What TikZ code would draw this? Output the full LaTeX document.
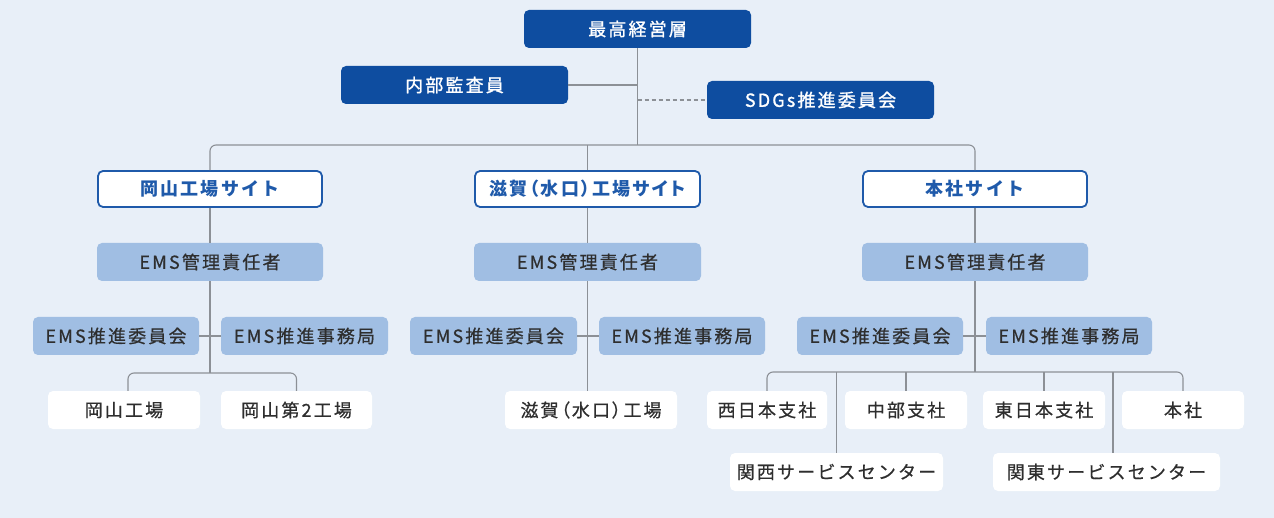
\documentclass[tikz,border=0pt]{standalone}
\usepackage{fontspec}
\setmainfont{Noto Sans CJK JP}[LetterSpace=12]
\newcommand{\pp}{\addfontfeatures{RawFeature=+palt}}
\definecolor{bg}{HTML}{E8EFF8}
\definecolor{dblue}{HTML}{0E4DA0}
\definecolor{lblue}{HTML}{A0BEE3}
\definecolor{lnc}{HTML}{8C9096}
\definecolor{txt}{HTML}{2E2E2E}
\definecolor{sblue}{HTML}{1F5AAA}
\begin{document}
\begin{tikzpicture}[x=1pt,y=-1pt,
  base/.style={rectangle, rounded corners=5pt, minimum height=38pt, inner sep=0pt, font=\fontsize{18}{20}\selectfont\addfontfeatures{FakeBold=0.6}},
  topbox/.style={base, fill=dblue, text=white, font=\fontsize{18}{20}\selectfont\addfontfeatures{FakeBold=1.2}},
  sitebox/.style={base, fill=white, draw=sblue, line width=1.8pt, minimum height=36pt, text=sblue, font=\fontsize{18}{20}\selectfont\bfseries},
  emsbox/.style={base, fill=lblue, text=txt},
  unitbox/.style={base, fill=white, text=txt},
  conn/.style={draw=lnc, line width=1.1pt},
  conndash/.style={conn, dashed, dash pattern=on 4pt off 3pt}]
\fill[bg] (0,0) rectangle (1274,518);
% top level
\node[topbox, minimum width=227pt] (top) at (637.5,29) {最高経営層};
\node[topbox, minimum width=227pt] (audit) at (454.5,85) {内部監査員};
\node[topbox, minimum width=227pt] (sdgs) at (820.5,100) {SDGs推進委員会};
% sites
\node[sitebox, minimum width=224pt] (site1) at (210,189) {岡山工場サイト};
\node[sitebox, minimum width=225pt] (site2) at (587.5,189) {\pp 滋賀（水口）工場サイト};
\node[sitebox, minimum width=224pt] (site3) at (975,189) {本社サイト};
% managers
\node[emsbox, minimum width=226pt] (mgr1) at (210,262) {EMS管理責任者};
\node[emsbox, minimum width=227pt] (mgr2) at (587.5,262) {EMS管理責任者};
\node[emsbox, minimum width=226pt] (mgr3) at (975,262) {EMS管理責任者};
% committees and offices
\node[emsbox, minimum width=166pt] (com1) at (116,336) {EMS推進委員会};
\node[emsbox, minimum width=167pt] (off1) at (304.5,336) {EMS推進事務局};
\node[emsbox, minimum width=167pt] (com2) at (493.5,336) {EMS推進委員会};
\node[emsbox, minimum width=166pt] (off2) at (682,336) {EMS推進事務局};
\node[emsbox, minimum width=166pt] (com3) at (880,336) {EMS推進委員会};
\node[emsbox, minimum width=166pt] (off3) at (1069,336) {EMS推進事務局};
% units
\node[unitbox, minimum width=152pt] (ok1) at (124,410) {岡山工場};
\node[unitbox, minimum width=151pt] (ok2) at (296.5,410) {岡山第2工場};
\node[unitbox, minimum width=172pt] (sh1) at (591,410) {\pp 滋賀（水口）工場};
\node[unitbox, minimum width=120pt] (n1) at (767,410) {西日本支社};
\node[unitbox, minimum width=122pt] (n2) at (906,410) {中部支社};
\node[unitbox, minimum width=122pt] (n3) at (1044,410) {東日本支社};
\node[unitbox, minimum width=122pt] (n4) at (1183,410) {本社};
\node[unitbox, minimum width=213pt] (k1) at (836.5,472) {関西サービスセンター};
\node[unitbox, minimum width=227pt] (k2) at (1106.5,472) {関東サービスセンター};
% bar coordinates
\coordinate (bar) at (637,145);
\coordinate (okbar) at (210,373);
\coordinate (hbar) at (975,372);
% connectors
\draw[conn] (top.south) -- (top.south |- bar);
\draw[conn] (audit.east) -- (audit.east -| top.south);
\draw[conndash] (sdgs.west -| top.south) -- (sdgs.west);
\draw[conn, rounded corners=6pt] (site1.north) |- (bar) -| (site3.north);
\draw[conn] (site2.north) -- (site2.north |- bar);
\draw[conn] (site1.south) -- (mgr1.north);
\draw[conn] (site2.south) -- (mgr2.north);
\draw[conn] (site3.south) -- (mgr3.north);
\draw[conn] (com1.east) -- (off1.west);
\draw[conn] (com2.east) -- (off2.west);
\draw[conn] (com3.east) -- (off3.west);
\draw[conn] (mgr1.south) -- (okbar);
\draw[conn, rounded corners=6pt] ([xshift=4pt]ok1.north) |- (okbar) -| (ok2.north);
\draw[conn] (mgr2.south) -- (mgr2.south |- sh1.north);
\draw[conn] (mgr3.south) -- (hbar);
\draw[conn, rounded corners=6pt] (n1.north) |- (hbar) -| (n4.north);
\draw[conn] (n2.north) -- (n2.north |- hbar);
\draw[conn] (n3.north) -- (n3.north |- hbar);
\draw[conn] (k1.north) -- (k1.north |- hbar);
\draw[conn] ([xshift=6.5pt]k2.north) -- ([xshift=6.5pt]k2.north |- hbar);
\end{tikzpicture}
\end{document}
